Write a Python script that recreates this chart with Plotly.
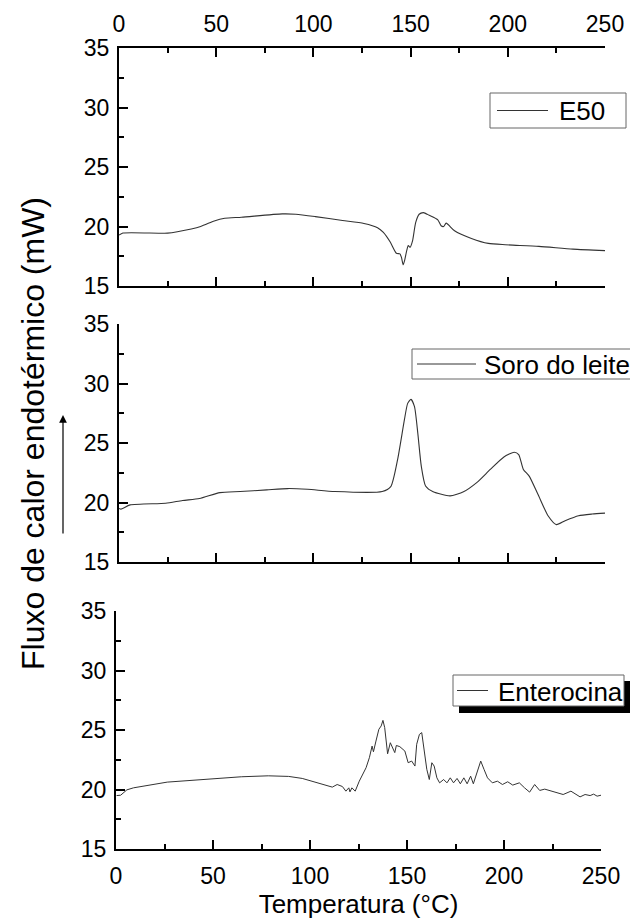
import plotly.graph_objects as go

# ---------------- data ----------------
e50_x = [0, 2, 25, 30, 42, 49, 54.4, 63, 84, 91, 101, 115, 126, 133, 136, 139.6, 142.7, 144.5,
         145.3, 146.2, 147, 148, 148.8, 149.7, 151, 152.6, 154.4, 156.6, 159.6, 164, 165.7, 167,
         168.3, 172.6, 181.3, 190, 198.7, 216, 233.5, 250]
e50_y = [19.28, 19.45, 19.44, 19.56, 20.0, 20.47, 20.69, 20.78, 21.06, 21.03, 20.83, 20.5, 20.25,
         19.9, 19.5, 18.67, 17.75, 17.7, 17.4, 16.78, 17.2, 17.97, 18.4, 18.25, 18.8, 20.33, 21.03,
         21.17, 20.94, 20.56, 20.06, 20.0, 20.28, 19.64, 19.0, 18.58, 18.47, 18.33, 18.1, 17.97]

soro_x = [0, 1, 5.7, 24, 32.7, 41.4, 51.9, 62.3, 76, 86.7, 97, 111, 135.4, 139.8, 143.3, 146.8,
          148.5, 150.2, 152, 153.7, 155.5, 157.7, 161.6, 170.3, 177.2, 184, 191, 198, 203.3,
          205.6, 208, 211, 215.5, 220.7, 225, 229.5, 236.4, 243.4, 250]
soro_y = [19.5, 19.44, 19.8, 19.94, 20.17, 20.33, 20.83, 20.92, 21.06, 21.17, 21.11, 20.92, 20.92,
          21.33, 23.6, 26.94, 28.33, 28.67, 28.05, 25.83, 23.05, 21.39, 20.9, 20.56, 20.9, 21.67,
          22.78, 23.83, 24.22, 24.03, 22.78, 22.22, 20.69, 18.89, 18.14, 18.47, 18.89, 19.03, 19.11]

ent_x = [0.3, 2.4, 5.6, 9, 26.4, 43.8, 54, 64.6, 78.5, 89, 96, 102.8, 111.5, 114, 116.7, 118.5,
         120, 120.6, 121.6, 123.3, 125.4, 128.9, 130.6, 132, 132.7, 134, 135.5, 136.7, 137.6,
         138.5, 140, 141.4, 142.5, 143.7, 144.5, 146.3, 148.9, 150.6, 152.4, 154.1, 155, 156.4,
         157.6, 158.8, 160.2, 161.5, 162.8, 164, 165.4, 166.8, 168.9, 170.6, 172.3, 174, 175.8,
         177.5, 179.3, 181, 182.8, 184.2, 185.9, 188, 189.7, 191.5, 194, 196.6, 199.2, 201.9,
         204.5, 207.9, 210.6, 213.2, 215.8, 218.4, 221, 224.5, 228, 230.5, 234.5, 236.6, 239.2,
         241.8, 244.4, 246.2, 248, 250]
ent_y = [19.49, 19.52, 19.97, 20.14, 20.62, 20.84, 20.98, 21.07, 21.15, 21.1, 20.93, 20.62, 20.2,
         20.42, 20.25, 19.86, 20.14, 19.8, 20.14, 19.86, 20.7, 21.83, 22.67, 23.65, 23.17, 24.07,
         25.06, 25.34, 25.81, 25.2, 23.0, 23.93, 23.5, 23.1, 23.7, 23.6, 23.23, 22.25, 22.39,
         21.97, 23.8, 24.63, 24.78, 23.5, 21.7, 20.84, 22.25, 21.97, 20.98, 20.56, 20.84, 20.56,
         20.98, 20.56, 20.93, 20.48, 20.98, 20.48, 21.12, 20.48, 21.26, 22.39, 21.69, 20.98,
         20.56, 20.7, 20.42, 20.65, 20.37, 20.56, 20.14, 19.78, 20.42, 19.92, 20.03, 19.86,
         19.72, 19.58, 19.86, 19.66, 19.38, 19.58, 19.49, 19.61, 19.44, 19.52]

x_tickvals = [0, 50, 100, 150, 200, 250]
y_tickvals = [15, 20, 25, 30, 35]
x_title = "Temperatura (°C)"
y_title = "Fluxo de calor endotérmico (mW)"
names = ["E50", "Soro do leite", "Enterocina"]

# ---------------- figure ----------------
W, H = 630, 922
FONT = "Liberation Sans, Arial, sans-serif"
LINE_COLOR = "#333333"

def px_x(p):
    return p / W

def px_y(p):
    return 1 - p / H

fig = go.Figure()
fig.add_trace(go.Scatter(x=e50_x, y=e50_y, mode="lines", name=names[0], showlegend=False,
                         line=dict(color=LINE_COLOR, width=1.1, shape="spline", smoothing=0.6),
                         xaxis="x", yaxis="y"))
fig.add_trace(go.Scatter(x=soro_x, y=soro_y, mode="lines", name=names[1], showlegend=False,
                         line=dict(color=LINE_COLOR, width=1.1, shape="spline", smoothing=0.6),
                         xaxis="x2", yaxis="y2"))
fig.add_trace(go.Scatter(x=ent_x, y=ent_y, mode="lines", name=names[2], showlegend=False,
                         line=dict(color=LINE_COLOR, width=1.0),
                         xaxis="x3", yaxis="y3"))

tickfont = dict(family=FONT, size=23, color="black")
common_x = dict(range=[0, 250], tickvals=x_tickvals, ticks="inside", ticklen=9, tickwidth=2,
                tickcolor="black", showline=True, linecolor="black", linewidth=2,
                showgrid=False, zeroline=False, tickfont=tickfont, ticklabelstandoff=5,
                minor=dict(dtick=25, tick0=0, ticks="inside", ticklen=5, tickwidth=2,
                           tickcolor="black", showgrid=False))
common_y = dict(range=[15, 35], tickvals=y_tickvals, ticks="inside", ticklen=9, tickwidth=2,
                tickcolor="black", showline=True, linecolor="black", linewidth=2,
                showgrid=False, zeroline=False, tickfont=tickfont, ticklabelstandoff=3,
                minor=dict(dtick=2.5, tick0=15, ticks="inside", ticklen=5, tickwidth=2,
                           tickcolor="black", showgrid=False))

xd12 = [px_x(119), px_x(605)]
xd3 = [px_x(116), px_x(601)]

fig.update_layout(
    width=W, height=H, margin=dict(l=0, r=0, t=0, b=0, autoexpand=False),
    paper_bgcolor="white", plot_bgcolor="rgba(0,0,0,0)",
    font=dict(family=FONT, color="black"),
    showlegend=False,
    xaxis=dict(common_x, domain=xd12, anchor="y", side="top", mirror="ticks"),
    yaxis=dict(common_y, domain=[px_y(286), px_y(48)], anchor="x"),
    xaxis2=dict(common_x, domain=xd12, anchor="y2", showticklabels=False),
    yaxis2=dict(common_y, domain=[px_y(562), px_y(324)], anchor="x2"),
    xaxis3=dict(common_x, domain=xd3, anchor="y3",
                title=dict(text=x_title, font=dict(family=FONT, size=26, color="black"), standoff=7)),
    yaxis3=dict(common_y, domain=[px_y(849), px_y(611)], anchor="x3"),
)

# ---- legend boxes (drawn manually to match the original's layout) ----
# (box left, box top, box right, box bottom, sample x0, sample x1, text x, shadow)
legend_boxes = [
    (490, 93, 626, 128, 497, 548, 557, False),
    (412, 349, 640, 379, 417, 476, 482, False),
    (453, 675, 624, 706, 457, 488, 496, True),
]
for name, (bl, bt, br, bb, s0, s1, tx, shadow) in zip(names, legend_boxes):
    if shadow:
        fig.add_shape(type="rect", xref="paper", yref="paper",
                      x0=px_x(bl + 6), x1=px_x(br + 7), y0=px_y(bb + 7), y1=px_y(bt + 6),
                      fillcolor="black", line=dict(width=0), layer="above")
    fig.add_shape(type="rect", xref="paper", yref="paper",
                  x0=px_x(bl), x1=px_x(br), y0=px_y(bb), y1=px_y(bt),
                  fillcolor="white", line=dict(color="#666666", width=1), layer="above")
    cy = (bt + bb) / 2
    fig.add_shape(type="line", xref="paper", yref="paper",
                  x0=px_x(s0), x1=px_x(s1), y0=px_y(cy), y1=px_y(cy),
                  line=dict(color=LINE_COLOR, width=1), layer="above")
    fig.add_annotation(xref="paper", yref="paper", x=px_x(tx), y=px_y(cy + 1), text=name,
                       showarrow=False, xanchor="left", yanchor="middle",
                       font=dict(family=FONT, size=26, color="black"))

# shared y title
fig.add_annotation(xref="paper", yref="paper", x=px_x(33), y=px_y(434), text=y_title,
                   textangle=-90, showarrow=False, xanchor="center", yanchor="middle",
                   font=dict(family=FONT, size=32, color="black"))

# upward arrow
fig.add_annotation(xref="paper", yref="paper", x=px_x(63), y=px_y(415), ax=0, ay=120,
                   axref="pixel", ayref="pixel", text="", showarrow=True,
                   arrowhead=2, arrowsize=1.3, arrowwidth=1.2, arrowcolor="black", standoff=0)

fig.write_html("out.html")
